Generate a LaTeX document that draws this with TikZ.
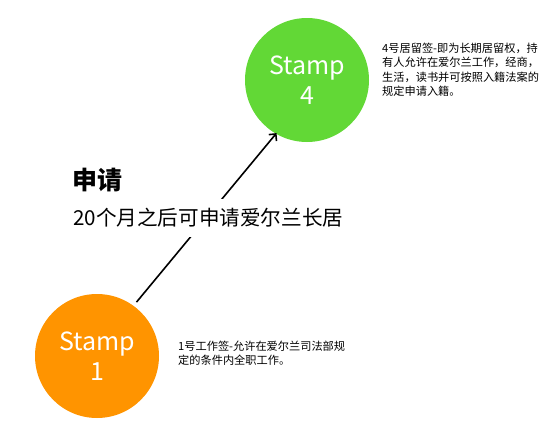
\documentclass[tikz,border=0pt]{standalone}
\usepackage{fontspec}
\setmainfont{Noto Sans CJK SC}
\usetikzlibrary{arrows.meta}
\definecolor{stampgreen}{HTML}{62D836}
\definecolor{stamporange}{HTML}{FF9400}
\begin{document}
\begin{tikzpicture}[x=1pt,y=-1pt,
  stampnode/.style={circle,minimum size=124pt,inner sep=0pt,text=white,align=center,font=\fontsize{25}{30}\selectfont},
  note/.style={anchor=north west,inner sep=0pt,align=left,font=\fontsize{11.2}{14.2}\selectfont,text=black},
  conn/.style={line width=1.6pt,-{Straight Barb[length=5pt,width=10pt,line width=1.6pt]}}]
\useasboundingbox (0,0) rectangle (558,434);
\node[stampnode,fill=stampgreen] (g) at (307,80) {Stamp\\4};
\node[stampnode,fill=stamporange] (o) at (97,356) {Stamp\\1};
\draw[conn,shorten <=4.6pt,shorten >=-1pt] (o.54) -- (g.240);
\node[anchor=center,inner sep=0pt,font=\fontsize{25}{29}\selectfont\bfseries] (title) at (97,180) {申请};
\node[anchor=west,inner xsep=2pt,inner ysep=9pt,fill=white,font=\fontsize{20.6}{25}\selectfont] (sub) at (71,218) {20个月之后可申请爱尔兰长居};
\node[note] (n4) at (382,43) {4号居留签-即为长期居留权，持\\有人允许在爱尔兰工作，经商，\\生活，读书并可按照入籍法案的\\规定申请入籍。};
\node[note] (n1) at (178,341) {1号工作签-允许在爱尔兰司法部规\\定的条件内全职工作。};
\end{tikzpicture}
\end{document}
